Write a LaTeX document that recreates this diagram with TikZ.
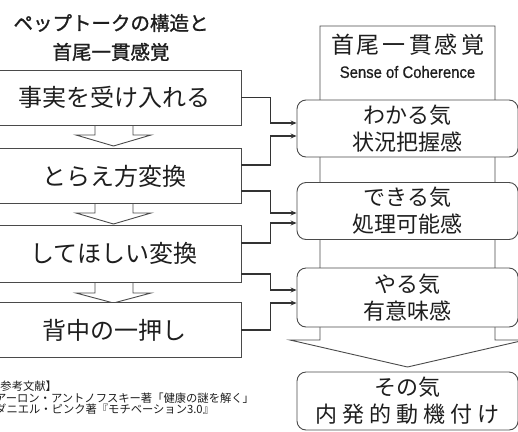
\documentclass[tikz,border=0pt]{standalone}
\usepackage{fontspec}
\setmainfont{Noto Sans CJK JP}
\newfontfamily\titlefont{Noto Sans CJK JP}[FakeBold=1.2]
\newfontfamily\latinsans{Liberation Sans}[FakeBold=0.8]
\usetikzlibrary{arrows.meta,calc}
\definecolor{txt}{HTML}{1E1E1E}
\definecolor{linegray}{HTML}{4A4A4A}
\definecolor{conncol}{HTML}{333333}
\begin{document}
\begin{tikzpicture}[x=1pt,y=-1pt,
  lbox/.style={draw=linegray, line width=0.9pt, fill=white, minimum width=254pt, minimum height=55pt, inner sep=0pt, text=txt, font=\fontsize{24}{28}\selectfont},
  rbox/.style={draw=linegray, line width=0.9pt, fill=white, rounded corners=9pt, minimum width=221pt, minimum height=57pt, inner sep=0pt, align=center, text=txt, font=\fontsize{22}{27}\selectfont},
  conn/.style={draw=conncol, line width=1.3pt, -{Stealth[length=6pt,width=5pt]}},
  barrow/.style={draw=linegray, line width=0.9pt, fill=white},
  plain/.style={inner sep=0pt, text=txt}]
\useasboundingbox[fill=white] (0,0) rectangle (518,431);

% title
\node[plain, align=center, font=\titlefont\fontsize{19.5}{29}\selectfont] (title) at (111,37.5) {ペップトークの構造と\\首尾一貫感覚};

% left block arrows
\path[barrow] (95,125) -- (95,135) -- (76,135) -- (113.5,146) -- (151,135) -- (133,135) -- (133,125);
\path[barrow] (95,204) -- (95,213) -- (76,213) -- (113.5,224) -- (151,213) -- (133,213) -- (133,204);
\path[barrow] (95,282) -- (95,293) -- (76,293) -- (113.5,303) -- (151,293) -- (133,293) -- (133,282);

% left boxes
\node[lbox] (b1) at (114,97.5) {事実を受け入れる};
\node[lbox] (b2) at (114,176) {とらえ方変換};
\node[lbox, minimum height=57pt] (b3) at (114,253.5) {してほしい変換};
\node[lbox] (b4) at (114,330) {背中の一押し};

% SOC big arrow
\path[barrow] (320,340) -- (320,26) -- (495,26) -- (495,340) -- (525,340) -- (407.5,367) -- (290,340) -- cycle;
\node[plain, font=\fontsize{23}{27}\selectfont] (soc) at (407.5,45) {首\kern3pt 尾\kern3pt 一\kern3pt 貫\kern3pt 感\kern3pt 覚};
\node[plain, font=\latinsans\fontsize{16.5}{20}\selectfont] (socen) at (407.5,72) {\scalebox{0.9}[1]{Sense of Coherence}};

% right boxes
\node[rbox] (k1) at (407.5,128.5) {わかる気\\状況把握感};
\node[rbox] (k2) at (407.5,211) {できる気\\処理可能感};
\node[rbox, minimum height=59pt] (k3) at (407.5,297.5) {やる気\\有意味感};
\node[rbox, minimum height=58pt] (k4) at (407.5,401) {その気\\内\kern5pt 発\kern5pt 的\kern5pt 動\kern5pt 機\kern5pt 付\kern5pt け};

% connectors
\draw[conn] (b1.east) -- ++(29,0) |- (k1.west |- 0,123);
\draw[conn] ($(b2.east)+(0,-11)$) -- ++(29,0) |- (k1.west |- 0,136);
\draw[conn] ($(b2.east)+(0,15)$) -- ++(29,0) |- (k2.west |- 0,213);
\draw[conn] ($(b3.east)+(0,-10.5)$) -- ++(29,0) |- (k2.west |- 0,223);
\draw[conn] ($(b3.east)+(0,20.5)$) -- ++(29,0) |- (k3.west |- 0,290);
\draw[conn] (b4.east) -- ++(29,0) |- (k3.west |- 0,303);

% references
\node[plain, anchor=west, font=\fontsize{11.3}{12}\selectfont] (ref0) at (-11,386) {【参考文献】};
\node[plain, anchor=west, font=\fontsize{11.3}{12}\selectfont] (ref1) at (-5,398) {アーロン・アントノフスキー著「健康の謎を解く」};
\node[plain, anchor=west, font=\fontsize{11.3}{12}\selectfont] (ref2) at (-5,409.5) {ダニエル・ピンク著『モチベーション3.0』};
\end{tikzpicture}
\end{document}
